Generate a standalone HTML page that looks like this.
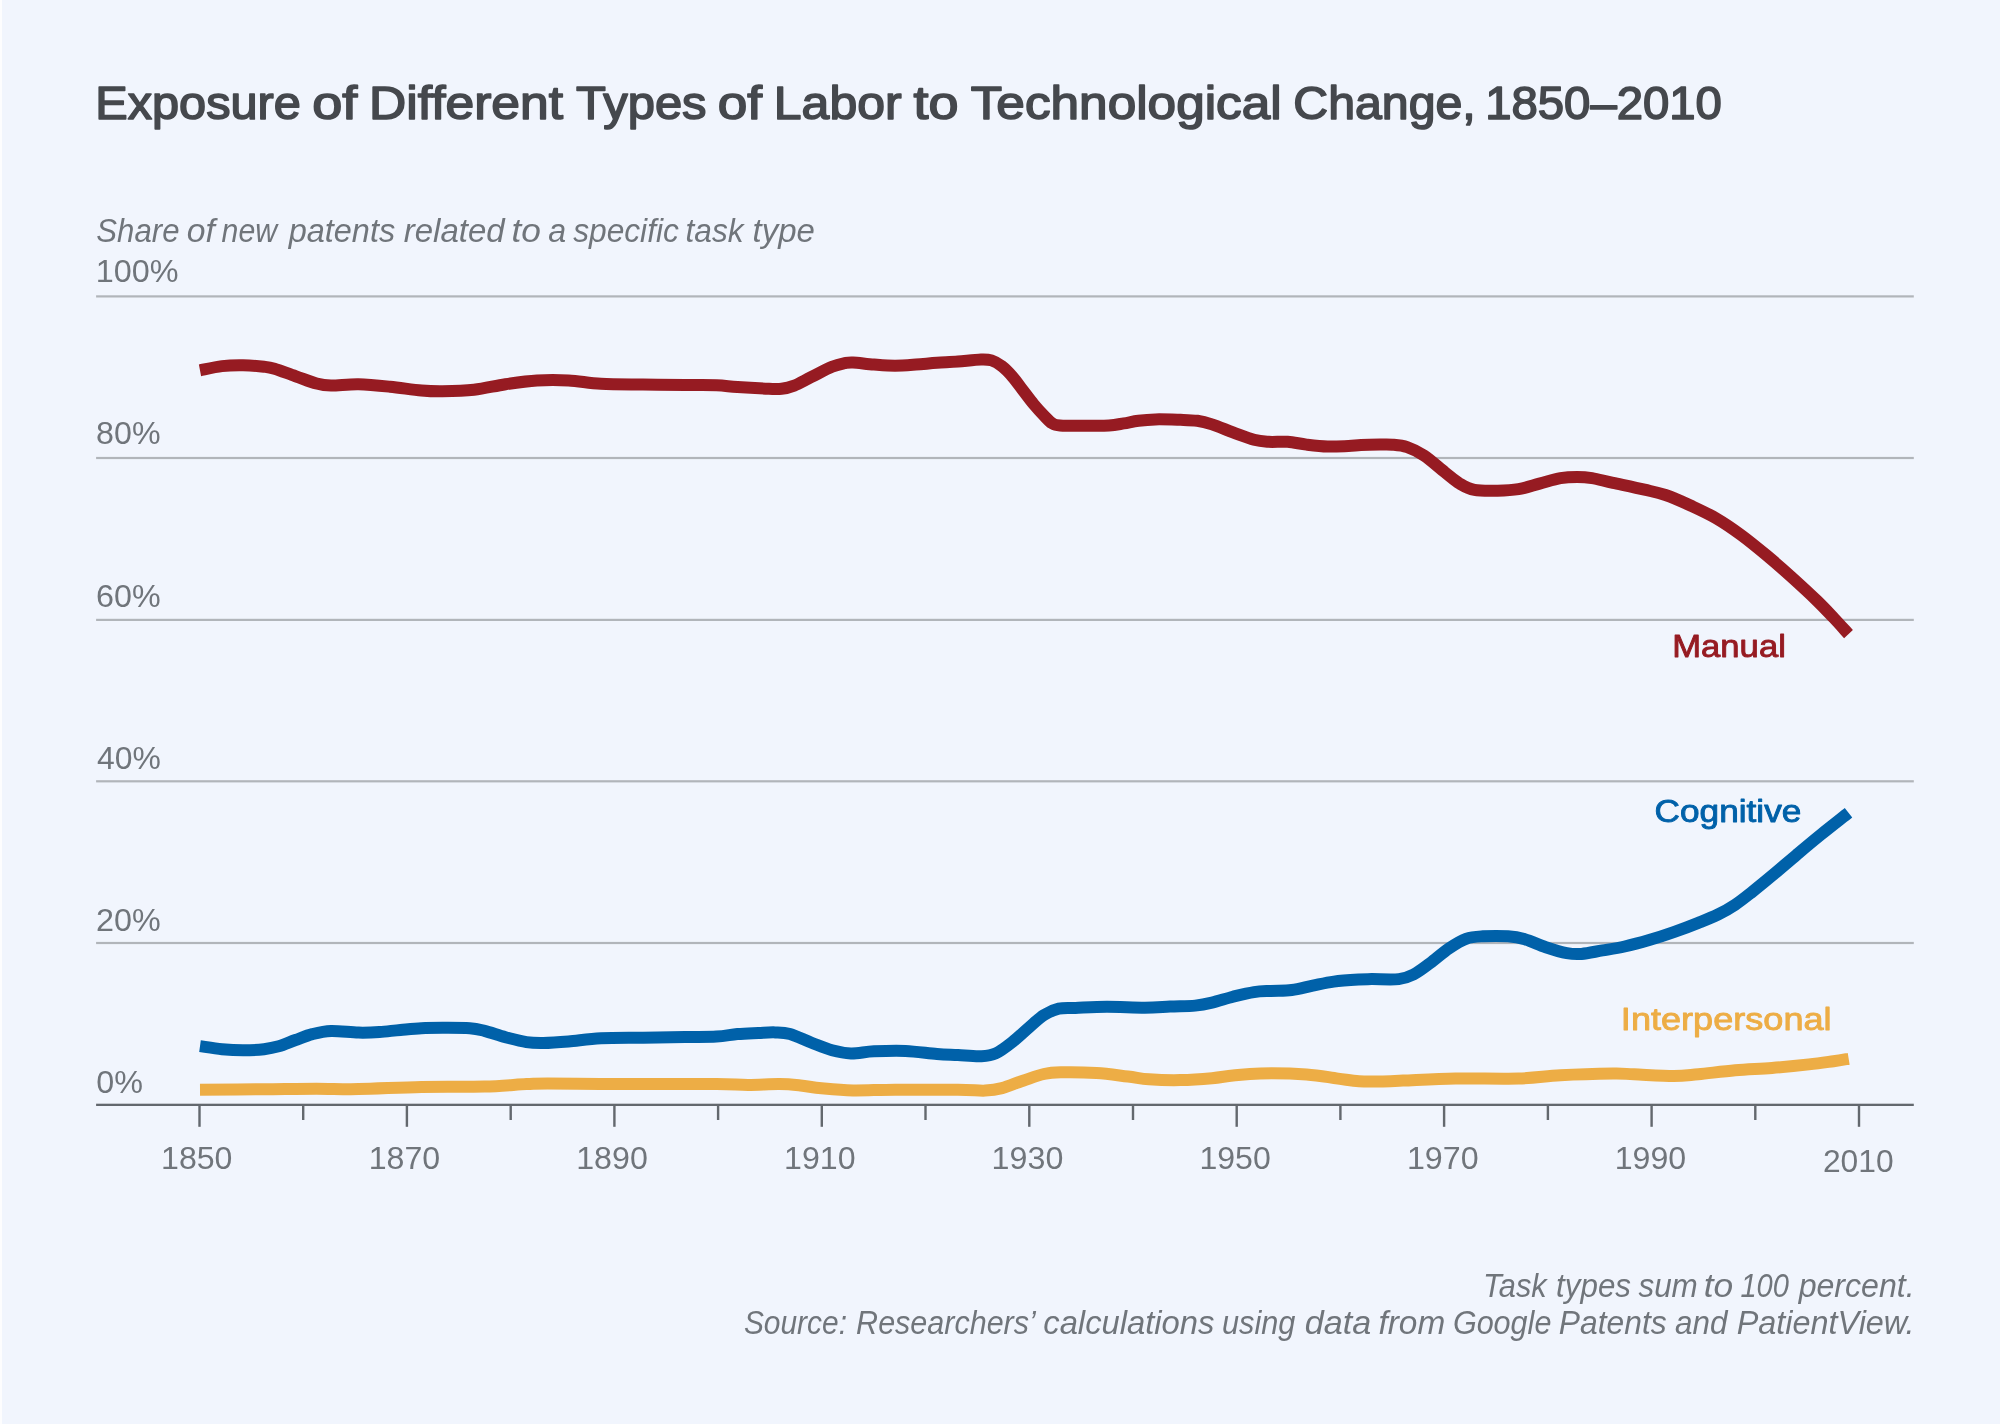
<!DOCTYPE html>
<html><head><meta charset="utf-8"><title>Exposure of Different Types of Labor to Technological Change</title>
<style>html,body{margin:0;padding:0;background:#f1f5fd;}body{width:2000px;height:1424px;overflow:hidden;}svg{display:block;will-change:transform;font-family:"Liberation Sans",sans-serif;}</style></head><body>
<svg width="2000" height="1424" viewBox="0 0 2000 1424">
<rect x="0" y="0" width="2000" height="1424" fill="#f1f5fd"/>
<rect x="0" y="0" width="2" height="1424" fill="#fdfdfe"/>
<text x="95.20" y="119.0" font-size="46.80" fill="#45484d" text-anchor="start" font-weight="normal" font-style="normal" textLength="205.7" lengthAdjust="spacingAndGlyphs" stroke="#45484d" stroke-width="1.60" stroke-linejoin="round">Exposure</text>
<text x="312.28" y="119.0" font-size="46.80" fill="#45484d" text-anchor="start" font-weight="normal" font-style="normal" textLength="45.1" lengthAdjust="spacingAndGlyphs" stroke="#45484d" stroke-width="1.60" stroke-linejoin="round">of</text>
<text x="369.08" y="119.0" font-size="46.80" fill="#45484d" text-anchor="start" font-weight="normal" font-style="normal" textLength="193.9" lengthAdjust="spacingAndGlyphs" stroke="#45484d" stroke-width="1.60" stroke-linejoin="round">Different</text>
<text x="576.08" y="119.0" font-size="46.80" fill="#45484d" text-anchor="start" font-weight="normal" font-style="normal" textLength="130.5" lengthAdjust="spacingAndGlyphs" stroke="#45484d" stroke-width="1.60" stroke-linejoin="round">Types</text>
<text x="717.81" y="119.0" font-size="46.80" fill="#45484d" text-anchor="start" font-weight="normal" font-style="normal" textLength="44.3" lengthAdjust="spacingAndGlyphs" stroke="#45484d" stroke-width="1.60" stroke-linejoin="round">of</text>
<text x="773.83" y="119.0" font-size="46.80" fill="#45484d" text-anchor="start" font-weight="normal" font-style="normal" textLength="127.8" lengthAdjust="spacingAndGlyphs" stroke="#45484d" stroke-width="1.60" stroke-linejoin="round">Labor</text>
<text x="913.64" y="119.0" font-size="46.80" fill="#45484d" text-anchor="start" font-weight="normal" font-style="normal" textLength="45.0" lengthAdjust="spacingAndGlyphs" stroke="#45484d" stroke-width="1.60" stroke-linejoin="round">to</text>
<text x="970.66" y="119.0" font-size="46.80" fill="#45484d" text-anchor="start" font-weight="normal" font-style="normal" textLength="311.1" lengthAdjust="spacingAndGlyphs" stroke="#45484d" stroke-width="1.60" stroke-linejoin="round">Technological</text>
<text x="1293.29" y="119.0" font-size="46.80" fill="#45484d" text-anchor="start" font-weight="normal" font-style="normal" textLength="182.5" lengthAdjust="spacingAndGlyphs" stroke="#45484d" stroke-width="1.60" stroke-linejoin="round">Change,</text>
<text x="1485.15" y="119.0" font-size="46.80" fill="#45484d" text-anchor="start" font-weight="normal" font-style="normal" textLength="236.8" lengthAdjust="spacingAndGlyphs" stroke="#45484d" stroke-width="1.60" stroke-linejoin="round">1850–2010</text>
<text x="96.34" y="242.0" font-size="33.00" fill="#70757b" text-anchor="start" font-weight="normal" font-style="italic" textLength="83.2" lengthAdjust="spacingAndGlyphs">Share</text>
<text x="186.71" y="242.0" font-size="33.00" fill="#70757b" text-anchor="start" font-weight="normal" font-style="italic" textLength="28.1" lengthAdjust="spacingAndGlyphs">of</text>
<text x="221.62" y="242.0" font-size="33.00" fill="#70757b" text-anchor="start" font-weight="normal" font-style="italic" textLength="55.5" lengthAdjust="spacingAndGlyphs">new</text>
<text x="288.65" y="242.0" font-size="33.00" fill="#70757b" text-anchor="start" font-weight="normal" font-style="italic" textLength="106.5" lengthAdjust="spacingAndGlyphs">patents</text>
<text x="403.74" y="242.0" font-size="33.00" fill="#70757b" text-anchor="start" font-weight="normal" font-style="italic" textLength="100.9" lengthAdjust="spacingAndGlyphs">related</text>
<text x="511.51" y="242.0" font-size="33.00" fill="#70757b" text-anchor="start" font-weight="normal" font-style="italic" textLength="29.4" lengthAdjust="spacingAndGlyphs">to</text>
<text x="548.26" y="242.0" font-size="33.00" fill="#70757b" text-anchor="start" font-weight="normal" font-style="italic" textLength="17.9" lengthAdjust="spacingAndGlyphs">a</text>
<text x="573.16" y="242.0" font-size="33.00" fill="#70757b" text-anchor="start" font-weight="normal" font-style="italic" textLength="105.7" lengthAdjust="spacingAndGlyphs">specific</text>
<text x="685.55" y="242.0" font-size="33.00" fill="#70757b" text-anchor="start" font-weight="normal" font-style="italic" textLength="58.0" lengthAdjust="spacingAndGlyphs">task</text>
<text x="752.62" y="242.0" font-size="33.00" fill="#70757b" text-anchor="start" font-weight="normal" font-style="italic" textLength="62.3" lengthAdjust="spacingAndGlyphs">type</text>
<rect x="96.1" y="295.3" width="1817.7" height="2.2" fill="#b1b5ba"/>
<rect x="96.1" y="456.9" width="1817.7" height="2.2" fill="#b1b5ba"/>
<rect x="96.1" y="618.8" width="1817.7" height="2.2" fill="#b1b5ba"/>
<rect x="96.1" y="780.2" width="1817.7" height="2.2" fill="#b1b5ba"/>
<rect x="96.1" y="941.9" width="1817.7" height="2.2" fill="#b1b5ba"/>
<text x="95.87" y="281.9" font-size="32.00" fill="#70757b" text-anchor="start" font-weight="normal" font-style="normal" textLength="82.8" lengthAdjust="spacingAndGlyphs">100%</text>
<text x="96.10" y="444.2" font-size="32.00" fill="#70757b" text-anchor="start" font-weight="normal" font-style="normal" textLength="64.4" lengthAdjust="spacingAndGlyphs">80%</text>
<text x="96.03" y="606.5" font-size="32.00" fill="#70757b" text-anchor="start" font-weight="normal" font-style="normal" textLength="64.6" lengthAdjust="spacingAndGlyphs">60%</text>
<text x="96.94" y="768.8" font-size="32.00" fill="#70757b" text-anchor="start" font-weight="normal" font-style="normal" textLength="63.8" lengthAdjust="spacingAndGlyphs">40%</text>
<text x="95.97" y="931.1" font-size="32.00" fill="#70757b" text-anchor="start" font-weight="normal" font-style="normal" textLength="64.7" lengthAdjust="spacingAndGlyphs">20%</text>
<text x="96.39" y="1093.3" font-size="32.00" fill="#70757b" text-anchor="start" font-weight="normal" font-style="normal" textLength="46.7" lengthAdjust="spacingAndGlyphs">0%</text>
<path d="M200.0 1089.7C210.7 1089.6 244.6 1089.5 264.0 1089.3C283.4 1089.1 300.8 1088.7 316.5 1088.7C332.2 1088.7 341.0 1089.4 358.5 1089.1C376.0 1088.8 400.5 1087.4 421.5 1087.0C442.5 1086.6 467.0 1087.1 484.5 1086.6C502.0 1086.1 516.0 1084.6 526.5 1084.1C537.0 1083.6 535.2 1083.4 547.5 1083.4C559.8 1083.4 584.1 1083.8 600.0 1083.9C615.9 1084.0 623.6 1084.1 643.0 1084.1C662.4 1084.1 699.0 1084.0 716.5 1084.1C734.0 1084.2 737.5 1084.9 748.0 1084.9C758.5 1084.9 770.8 1084.0 779.5 1084.1C788.2 1084.2 793.5 1084.8 800.5 1085.5C807.5 1086.2 812.8 1087.5 821.5 1088.3C830.2 1089.1 840.8 1090.2 853.0 1090.4C865.2 1090.6 877.5 1089.8 895.0 1089.7C912.5 1089.6 943.0 1089.6 958.0 1089.7C973.0 1089.8 977.9 1090.9 985.2 1090.6C992.5 1090.3 995.7 1089.8 1002.0 1088.1C1008.3 1086.4 1016.0 1083.0 1023.0 1080.7C1030.0 1078.4 1037.7 1075.4 1044.0 1074.0C1050.3 1072.6 1052.0 1072.5 1060.8 1072.3C1069.5 1072.1 1085.3 1072.3 1096.5 1073.0C1107.7 1073.7 1119.2 1075.5 1128.0 1076.5C1136.8 1077.5 1140.2 1078.7 1149.0 1079.3C1157.8 1079.9 1170.0 1080.3 1180.5 1080.1C1191.0 1079.9 1203.2 1079.0 1212.0 1078.2C1220.8 1077.4 1225.0 1076.3 1233.0 1075.5C1241.0 1074.7 1248.0 1073.6 1260.3 1073.4C1272.5 1073.2 1293.5 1073.5 1306.5 1074.4C1319.5 1075.3 1329.2 1077.5 1338.0 1078.6C1346.8 1079.7 1352.0 1080.7 1359.0 1081.2C1366.0 1081.7 1372.7 1081.5 1380.0 1081.4C1387.3 1081.3 1390.4 1081.1 1403.0 1080.6C1415.6 1080.1 1436.2 1078.8 1455.5 1078.5C1474.8 1078.2 1501.0 1079.0 1518.5 1078.5C1536.0 1078.0 1544.8 1076.1 1560.5 1075.3C1576.2 1074.5 1600.8 1073.8 1613.0 1073.6C1625.2 1073.4 1623.9 1073.9 1634.0 1074.3C1644.1 1074.7 1663.0 1076.0 1673.7 1076.0C1684.4 1076.0 1688.0 1075.2 1698.3 1074.3C1708.5 1073.3 1722.9 1071.4 1735.2 1070.3C1747.5 1069.2 1759.7 1068.9 1772.0 1067.9C1784.3 1066.9 1798.7 1065.5 1808.9 1064.4C1819.2 1063.3 1826.9 1062.1 1833.5 1061.2C1840.1 1060.3 1846.2 1059.2 1848.7 1058.8" fill="none" stroke="#edad45" stroke-width="12.0" stroke-linejoin="round"/>
<path d="M200.0 1046.1C203.7 1046.6 214.8 1048.5 222.0 1049.2C229.2 1049.9 236.0 1050.3 243.0 1050.3C250.0 1050.3 258.1 1049.9 264.0 1049.2C269.9 1048.5 273.4 1047.8 278.7 1046.3C283.9 1044.8 289.9 1042.0 295.5 1040.0C301.1 1038.0 306.4 1035.6 312.3 1034.1C318.2 1032.6 323.5 1031.2 331.2 1030.9C338.9 1030.7 350.4 1032.4 358.5 1032.6C366.6 1032.8 372.5 1032.5 379.5 1032.0C386.5 1031.5 393.5 1030.5 400.5 1029.9C407.5 1029.3 414.5 1028.6 421.5 1028.2C428.5 1027.8 434.4 1027.8 442.5 1027.8C450.6 1027.8 462.8 1027.7 469.8 1028.2C476.8 1028.7 478.6 1029.4 484.5 1030.9C490.4 1032.4 498.5 1035.3 505.5 1037.2C512.5 1039.1 520.2 1041.1 526.5 1042.1C532.8 1043.0 536.3 1043.0 543.3 1042.9C550.3 1042.8 558.9 1042.2 568.5 1041.4C578.1 1040.6 588.6 1038.9 601.0 1038.3C613.4 1037.7 629.0 1037.9 643.0 1037.7C657.0 1037.5 672.8 1037.2 685.0 1037.0C697.2 1036.8 707.8 1037.1 716.5 1036.6C725.2 1036.1 730.5 1034.7 737.5 1034.1C744.5 1033.5 752.2 1033.3 758.5 1033.0C764.8 1032.7 770.0 1032.2 775.3 1032.4C780.5 1032.6 784.0 1032.4 790.0 1034.1C796.0 1035.8 804.0 1039.8 811.0 1042.5C818.0 1045.2 825.4 1048.5 832.0 1050.3C838.6 1052.1 843.9 1053.2 850.9 1053.4C857.9 1053.6 864.9 1051.7 874.0 1051.3C883.1 1050.9 895.0 1050.5 905.5 1050.9C916.0 1051.4 928.2 1053.3 937.0 1054.0C945.8 1054.7 950.7 1054.7 958.0 1055.1C965.3 1055.5 974.7 1056.5 981.0 1056.2C987.3 1055.9 990.5 1055.8 995.7 1053.4C1001.0 1051.0 1006.9 1046.3 1012.5 1041.9C1018.1 1037.5 1024.0 1031.7 1029.3 1027.2C1034.5 1022.7 1039.1 1018.1 1044.0 1015.0C1048.9 1011.9 1053.5 1009.9 1058.7 1008.7C1064.0 1007.5 1067.5 1008.2 1075.5 1007.9C1083.5 1007.6 1095.5 1006.8 1107.0 1006.8C1118.5 1006.8 1134.3 1007.7 1144.8 1007.7C1155.3 1007.7 1161.6 1007.0 1170.0 1006.6C1178.4 1006.2 1188.2 1006.3 1195.2 1005.6C1202.2 1004.9 1205.7 1004.1 1212.0 1002.6C1218.3 1001.1 1226.0 998.5 1233.0 996.7C1240.0 995.0 1247.7 993.1 1254.0 992.1C1260.3 991.1 1264.5 991.2 1270.8 990.9C1277.1 990.5 1284.8 990.9 1291.8 990.0C1298.8 989.1 1305.8 987.0 1312.8 985.6C1319.8 984.2 1326.1 982.6 1333.8 981.6C1341.5 980.6 1352.7 979.9 1359.0 979.5C1365.3 979.1 1364.9 979.2 1371.5 979.1C1378.1 979.0 1391.8 979.9 1398.8 979.1C1405.8 978.3 1408.2 977.2 1413.5 974.5C1418.8 971.8 1424.3 967.4 1430.3 963.0C1436.2 958.6 1443.2 952.2 1449.2 948.2C1455.2 944.2 1460.4 940.8 1466.0 938.8C1471.6 936.8 1475.8 936.7 1482.8 936.3C1489.8 935.9 1501.0 935.8 1508.0 936.3C1515.0 936.8 1518.5 937.4 1524.8 939.2C1531.1 941.0 1538.8 944.9 1545.8 947.2C1552.8 949.5 1560.8 952.0 1566.8 953.1C1572.8 954.2 1575.5 954.4 1581.5 953.9C1587.5 953.4 1595.3 951.6 1602.5 950.4C1609.7 949.2 1616.8 948.2 1624.6 946.5C1632.4 944.8 1641.0 942.5 1649.2 940.1C1657.4 937.7 1665.5 935.1 1673.7 932.2C1681.9 929.3 1690.9 925.9 1698.3 922.9C1705.7 919.9 1711.8 917.5 1718.0 914.5C1724.2 911.5 1729.5 908.5 1735.2 904.7C1740.9 900.9 1746.3 896.5 1752.4 891.7C1758.5 886.9 1764.6 881.9 1772.0 875.7C1779.4 869.6 1788.4 861.7 1796.6 854.8C1804.8 847.9 1812.5 841.4 1821.2 834.4C1829.9 827.4 1844.0 816.4 1848.5 812.8" fill="none" stroke="#0061a9" stroke-width="12.0" stroke-linejoin="round"/>
<path d="M200.0 370.3C203.7 369.6 214.8 366.9 222.0 366.1C229.2 365.3 236.0 365.2 243.0 365.3C250.0 365.4 258.8 366.1 264.0 366.7C269.2 367.3 269.2 367.2 274.5 368.8C279.8 370.4 288.5 373.8 295.5 376.2C302.5 378.6 310.6 381.9 316.5 383.5C322.4 385.1 324.0 385.5 331.0 385.6C338.0 385.7 348.7 384.0 358.5 384.2C368.3 384.4 379.5 385.6 390.0 386.7C400.5 387.8 412.8 389.7 421.5 390.5C430.2 391.3 433.8 391.4 442.5 391.3C451.2 391.2 463.5 391.0 474.0 389.8C484.5 388.6 495.0 385.8 505.5 384.2C516.0 382.6 526.5 381.0 537.0 380.4C547.5 379.8 557.8 379.8 568.5 380.4C579.2 381.0 588.6 383.1 601.0 383.8C613.4 384.5 629.0 384.4 643.0 384.6C657.0 384.8 672.8 384.9 685.0 385.0C697.2 385.1 707.8 384.8 716.5 385.2C725.2 385.6 728.8 386.5 737.5 387.1C746.2 387.7 761.6 388.5 769.0 388.8C776.4 389.1 777.4 389.3 781.6 388.8C785.8 388.3 789.3 387.5 794.2 385.6C799.1 383.7 804.7 380.3 811.0 377.2C817.3 374.1 826.4 369.1 832.0 366.8C837.6 364.5 841.1 363.9 844.6 363.2C848.1 362.5 848.1 362.3 853.0 362.5C857.9 362.7 867.0 364.1 874.0 364.6C881.0 365.1 888.0 365.7 895.0 365.7C902.0 365.7 909.0 365.1 916.0 364.6C923.0 364.1 930.0 363.3 937.0 362.8C944.0 362.3 950.7 362.1 958.0 361.5C965.3 360.9 975.4 359.7 981.0 359.5C986.6 359.3 988.0 359.3 991.5 360.4C995.0 361.5 998.5 363.6 1002.0 366.3C1005.5 369.0 1009.0 372.7 1012.5 376.7C1016.0 380.7 1019.5 385.8 1023.0 390.4C1026.5 394.9 1030.0 399.8 1033.5 404.0C1037.0 408.2 1040.9 412.4 1044.0 415.6C1047.1 418.8 1049.3 421.6 1052.0 423.2C1054.7 424.8 1054.3 425.0 1060.0 425.4C1065.7 425.8 1077.8 425.7 1086.0 425.7C1094.2 425.7 1102.7 425.9 1109.0 425.5C1115.3 425.1 1118.9 424.2 1123.8 423.4C1128.7 422.6 1133.2 421.5 1138.5 420.8C1143.8 420.1 1148.3 419.6 1155.3 419.4C1162.3 419.2 1173.5 419.6 1180.5 419.8C1187.5 420.0 1192.0 420.0 1197.3 420.8C1202.5 421.6 1206.0 422.5 1212.0 424.4C1218.0 426.3 1226.0 429.8 1233.0 432.4C1240.0 434.9 1248.0 438.1 1254.0 439.7C1260.0 441.3 1263.1 441.4 1268.7 441.8C1274.3 442.2 1281.3 441.3 1287.6 441.8C1293.9 442.3 1299.8 443.8 1306.5 444.6C1313.2 445.4 1320.5 446.3 1327.5 446.5C1334.5 446.7 1342.9 446.2 1348.5 446.0C1354.1 445.8 1355.8 445.3 1361.0 445.1C1366.2 444.9 1374.8 444.7 1380.0 444.6C1385.2 444.5 1388.0 444.3 1392.5 444.7C1397.0 445.1 1402.0 445.4 1407.2 447.2C1412.5 449.0 1417.7 451.4 1424.0 455.6C1430.3 459.8 1439.0 467.7 1445.0 472.4C1451.0 477.1 1454.8 480.7 1459.7 483.6C1464.6 486.5 1468.1 488.7 1474.4 489.9C1480.7 491.1 1490.2 490.8 1497.5 490.7C1504.8 490.6 1511.5 490.4 1518.5 489.2C1525.5 488.0 1532.5 485.5 1539.5 483.6C1546.5 481.8 1554.2 479.2 1560.5 478.1C1566.8 477.0 1572.0 476.9 1577.3 476.9C1582.5 476.9 1586.0 477.1 1592.0 478.1C1598.0 479.1 1604.2 481.0 1613.0 482.9C1621.8 484.8 1635.8 487.7 1644.5 489.7C1653.2 491.7 1657.8 492.4 1665.5 495.0C1673.2 497.6 1682.1 501.6 1690.5 505.5C1698.9 509.4 1707.4 513.2 1715.8 518.1C1724.2 523.0 1732.7 528.8 1741.1 535.0C1749.5 541.2 1758.0 548.2 1766.4 555.2C1774.8 562.2 1783.2 569.5 1791.6 577.1C1800.0 584.7 1809.9 593.8 1816.9 600.6C1823.9 607.4 1828.5 612.4 1833.8 618.0C1839.1 623.6 1846.0 631.4 1848.5 634.1" fill="none" stroke="#961b22" stroke-width="12.0" stroke-linejoin="round"/>
<rect x="96.1" y="1103.7" width="1817.7" height="2.3" fill="#63686e"/>
<rect x="198.3" y="1104.8" width="2.4" height="22.0" fill="#63686e"/>
<rect x="302.0" y="1104.8" width="2.4" height="15.2" fill="#63686e"/>
<rect x="405.7" y="1104.8" width="2.4" height="22.0" fill="#63686e"/>
<rect x="509.5" y="1104.8" width="2.4" height="15.2" fill="#63686e"/>
<rect x="613.2" y="1104.8" width="2.4" height="22.0" fill="#63686e"/>
<rect x="716.9" y="1104.8" width="2.4" height="15.2" fill="#63686e"/>
<rect x="820.6" y="1104.8" width="2.4" height="22.0" fill="#63686e"/>
<rect x="924.3" y="1104.8" width="2.4" height="15.2" fill="#63686e"/>
<rect x="1028.1" y="1104.8" width="2.4" height="22.0" fill="#63686e"/>
<rect x="1131.8" y="1104.8" width="2.4" height="15.2" fill="#63686e"/>
<rect x="1235.5" y="1104.8" width="2.4" height="22.0" fill="#63686e"/>
<rect x="1339.2" y="1104.8" width="2.4" height="15.2" fill="#63686e"/>
<rect x="1442.9" y="1104.8" width="2.4" height="22.0" fill="#63686e"/>
<rect x="1546.7" y="1104.8" width="2.4" height="15.2" fill="#63686e"/>
<rect x="1650.4" y="1104.8" width="2.4" height="22.0" fill="#63686e"/>
<rect x="1754.1" y="1104.8" width="2.4" height="15.2" fill="#63686e"/>
<rect x="1857.8" y="1104.8" width="2.4" height="22.0" fill="#63686e"/>
<text x="161.05" y="1169.3" font-size="32.00" fill="#70757b" text-anchor="start" font-weight="normal" font-style="normal" textLength="71.4" lengthAdjust="spacingAndGlyphs">1850</text>
<text x="368.65" y="1169.3" font-size="32.00" fill="#70757b" text-anchor="start" font-weight="normal" font-style="normal" textLength="71.5" lengthAdjust="spacingAndGlyphs">1870</text>
<text x="576.22" y="1169.3" font-size="32.00" fill="#70757b" text-anchor="start" font-weight="normal" font-style="normal" textLength="71.6" lengthAdjust="spacingAndGlyphs">1890</text>
<text x="784.09" y="1169.3" font-size="32.00" fill="#70757b" text-anchor="start" font-weight="normal" font-style="normal" textLength="71.5" lengthAdjust="spacingAndGlyphs">1910</text>
<text x="991.64" y="1169.3" font-size="32.00" fill="#70757b" text-anchor="start" font-weight="normal" font-style="normal" textLength="71.7" lengthAdjust="spacingAndGlyphs">1930</text>
<text x="1199.45" y="1169.3" font-size="32.00" fill="#70757b" text-anchor="start" font-weight="normal" font-style="normal" textLength="71.3" lengthAdjust="spacingAndGlyphs">1950</text>
<text x="1406.94" y="1169.3" font-size="32.00" fill="#70757b" text-anchor="start" font-weight="normal" font-style="normal" textLength="71.7" lengthAdjust="spacingAndGlyphs">1970</text>
<text x="1614.73" y="1169.3" font-size="32.00" fill="#70757b" text-anchor="start" font-weight="normal" font-style="normal" textLength="71.5" lengthAdjust="spacingAndGlyphs">1990</text>
<text x="1822.95" y="1171.6" font-size="32.00" fill="#70757b" text-anchor="start" font-weight="normal" font-style="normal" textLength="70.7" lengthAdjust="spacingAndGlyphs">2010</text>
<text x="1672.26" y="656.6" font-size="31.80" fill="#961b22" text-anchor="start" font-weight="normal" font-style="normal" textLength="113.6" lengthAdjust="spacingAndGlyphs" stroke="#961b22" stroke-width="0.90" stroke-linejoin="round">Manual</text>
<text x="1654.56" y="821.9" font-size="31.80" fill="#0061a9" text-anchor="start" font-weight="normal" font-style="normal" textLength="146.8" lengthAdjust="spacingAndGlyphs" stroke="#0061a9" stroke-width="0.90" stroke-linejoin="round">Cognitive</text>
<text x="1620.86" y="1029.8" font-size="31.80" fill="#edad45" text-anchor="start" font-weight="normal" font-style="normal" textLength="210.7" lengthAdjust="spacingAndGlyphs" stroke="#edad45" stroke-width="0.90" stroke-linejoin="round">Interpersonal</text>
<text x="1482.88" y="1296.8" font-size="33.00" fill="#70757b" text-anchor="start" font-weight="normal" font-style="italic" textLength="63.8" lengthAdjust="spacingAndGlyphs">Task</text>
<text x="1556.10" y="1296.8" font-size="33.00" fill="#70757b" text-anchor="start" font-weight="normal" font-style="italic" textLength="74.9" lengthAdjust="spacingAndGlyphs">types</text>
<text x="1638.41" y="1296.8" font-size="33.00" fill="#70757b" text-anchor="start" font-weight="normal" font-style="italic" textLength="59.4" lengthAdjust="spacingAndGlyphs">sum</text>
<text x="1703.79" y="1296.8" font-size="33.00" fill="#70757b" text-anchor="start" font-weight="normal" font-style="italic" textLength="29.5" lengthAdjust="spacingAndGlyphs">to</text>
<text x="1740.45" y="1296.8" font-size="33.00" fill="#70757b" text-anchor="start" font-weight="normal" font-style="italic" textLength="48.5" lengthAdjust="spacingAndGlyphs">100</text>
<text x="1798.63" y="1296.8" font-size="33.00" fill="#70757b" text-anchor="start" font-weight="normal" font-style="italic" textLength="116.1" lengthAdjust="spacingAndGlyphs">percent.</text>
<text x="743.90" y="1334.0" font-size="33.00" fill="#70757b" text-anchor="start" font-weight="normal" font-style="italic" textLength="103.1" lengthAdjust="spacingAndGlyphs">Source:</text>
<text x="856.12" y="1334.0" font-size="33.00" fill="#70757b" text-anchor="start" font-weight="normal" font-style="italic" textLength="179.7" lengthAdjust="spacingAndGlyphs">Researchers’</text>
<text x="1043.25" y="1334.0" font-size="33.00" fill="#70757b" text-anchor="start" font-weight="normal" font-style="italic" textLength="171.2" lengthAdjust="spacingAndGlyphs">calculations</text>
<text x="1221.96" y="1334.0" font-size="33.00" fill="#70757b" text-anchor="start" font-weight="normal" font-style="italic" textLength="73.4" lengthAdjust="spacingAndGlyphs">using</text>
<text x="1304.82" y="1334.0" font-size="33.00" fill="#70757b" text-anchor="start" font-weight="normal" font-style="italic" textLength="66.4" lengthAdjust="spacingAndGlyphs">data</text>
<text x="1378.47" y="1334.0" font-size="33.00" fill="#70757b" text-anchor="start" font-weight="normal" font-style="italic" textLength="66.7" lengthAdjust="spacingAndGlyphs">from</text>
<text x="1452.89" y="1334.0" font-size="33.00" fill="#70757b" text-anchor="start" font-weight="normal" font-style="italic" textLength="98.5" lengthAdjust="spacingAndGlyphs">Google</text>
<text x="1558.82" y="1334.0" font-size="33.00" fill="#70757b" text-anchor="start" font-weight="normal" font-style="italic" textLength="107.8" lengthAdjust="spacingAndGlyphs">Patents</text>
<text x="1675.02" y="1334.0" font-size="33.00" fill="#70757b" text-anchor="start" font-weight="normal" font-style="italic" textLength="52.4" lengthAdjust="spacingAndGlyphs">and</text>
<text x="1736.63" y="1334.0" font-size="33.00" fill="#70757b" text-anchor="start" font-weight="normal" font-style="italic" textLength="177.9" lengthAdjust="spacingAndGlyphs">PatientView.</text>
</svg></body></html>
